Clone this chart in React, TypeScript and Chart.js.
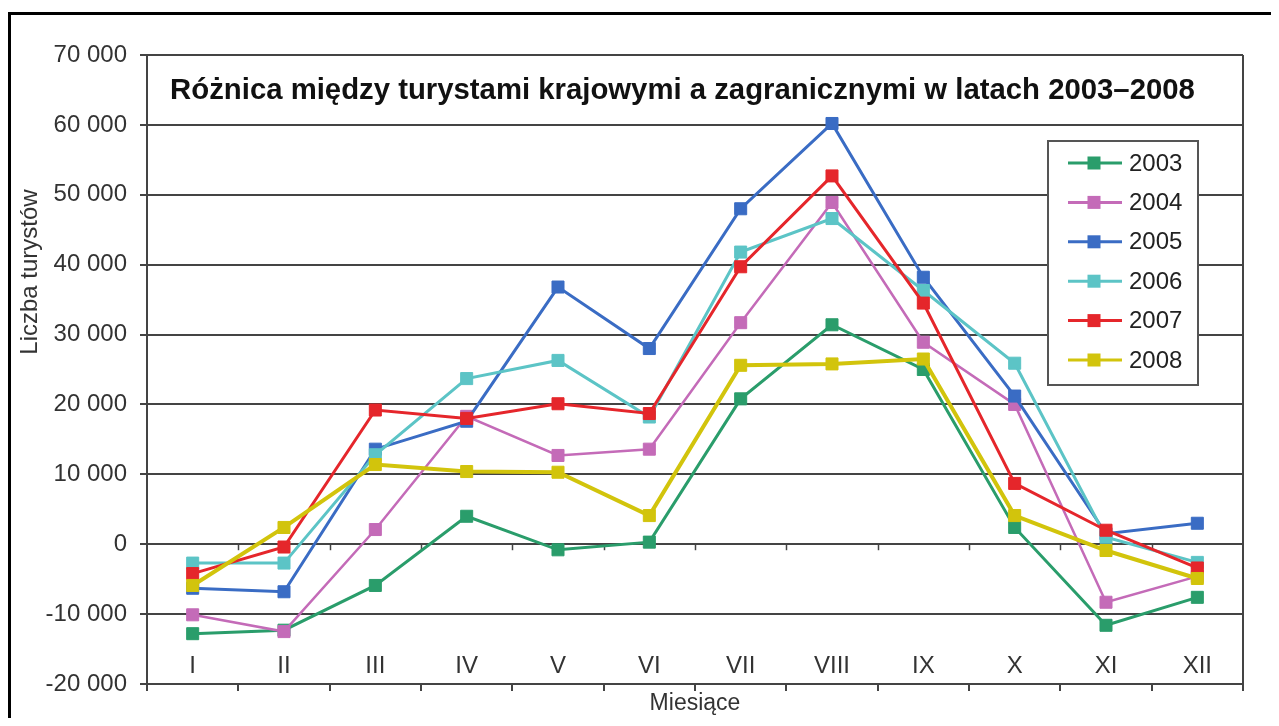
import React, { useEffect, useRef } from 'react';
import { Chart, registerables } from 'chart.js';

Chart.register(...registerables);

const FONT = '"Liberation Sans", Arial, Helvetica, sans-serif';

const months = ['I', 'II', 'III', 'IV', 'V', 'VI', 'VII', 'VIII', 'IX', 'X', 'XI', 'XII'];
const years = ['2003', '2004', '2005', '2006', '2007', '2008'];

const values2003 = [-12800, -12300, -5900, 4000, -800, 300, 20800, 31400, 25000, 2400, -11600, -7600];
const values2004 = [-10100, -12500, 2100, 18300, 12700, 13600, 31700, 48900, 28900, 20000, -8300, -4600];
const values2005 = [-6300, -6800, 13600, 17600, 36800, 28000, 48000, 60200, 38200, 21200, 1500, 3000];
const values2006 = [-2700, -2700, 12800, 23700, 26300, 18200, 41800, 46600, 36300, 25900, 1000, -2600];
const values2007 = [-4200, -400, 19200, 18000, 20100, 18700, 39700, 52700, 34500, 8700, 2000, -3400];
const values2008 = [-5900, 2400, 11400, 10400, 10300, 4100, 25600, 25800, 26500, 4100, -900, -4900];

const seriesValues = [values2003, values2004, values2005, values2006, values2007, values2008];
const seriesColors = ['#2a9d6b', '#c46bb8', '#3a6cc4', '#5cc4c6', '#e5262b', '#d2c40c'];
const seriesWidths = [3, 2.5, 3, 3, 3, 4];

const chartTitle = 'Różnica między turystami krajowymi a zagranicznymi w latach 2003–2008';
const yTitle = 'Liczba turystów';
const xTitle = 'Miesiące';

const yMin = -20000;
const yMax = 70000;
const yStep = 10000;

function formatThousands(v: number): string {
  const s = Math.abs(v).toString().replace(/\B(?=(\d{3})+(?!\d))/g, ' ');
  return (v < 0 ? '-' : '') + s;
}

const decorPlugin = {
  id: 'decor',
  beforeDatasetsDraw(chart: any) {
    const { ctx, chartArea: ca, scales } = chart;
    const y0 = scales.y.getPixelForValue(0);
    ctx.save();
    // outer frame
    ctx.fillStyle = '#000';
    ctx.fillRect(0, 4, chart.width, 3);
    ctx.fillRect(0, 4, 3, chart.height);
    // right border of plot area
    ctx.strokeStyle = '#444';
    ctx.lineWidth = 2;
    ctx.beginPath();
    ctx.moveTo(ca.right, ca.top);
    ctx.lineTo(ca.right, ca.bottom);
    ctx.stroke();
    // small ticks on the zero line
    const step = (ca.right - ca.left) / months.length;
    ctx.lineWidth = 1.5;
    for (let i = 1; i < months.length; i++) {
      const x = Math.round(ca.left + i * step) + 0.5;
      ctx.beginPath();
      ctx.moveTo(x, y0);
      ctx.lineTo(x, y0 + 6);
      ctx.stroke();
    }
    // y-axis title
    ctx.translate(22, 264);
    ctx.rotate(-Math.PI / 2);
    ctx.fillStyle = '#333';
    ctx.font = `24px ${FONT}`;
    ctx.textAlign = 'center';
    ctx.textBaseline = 'middle';
    ctx.fillText(yTitle, 0, 0);
    ctx.restore();
  },
  afterDatasetsDraw(chart: any) {
    const { ctx, chartArea: ca } = chart;
    ctx.save();
    // title inside plot
    ctx.font = `bold 26px ${FONT}`;
    const w = ctx.measureText(chartTitle).width;
    const size = (26 * 1025) / w;
    ctx.font = `bold ${size.toFixed(2)}px ${FONT}`;
    ctx.fillStyle = '#111';
    ctx.textAlign = 'center';
    ctx.textBaseline = 'alphabetic';
    ctx.fillText(chartTitle, 674.5, 91);

    // legend
    const boxRight = ca.right - 45;
    const boxLeft = boxRight - 150;
    const boxTop = ca.top + 86;
    const boxH = 244;
    ctx.fillStyle = '#fff';
    ctx.fillRect(boxLeft, boxTop, 150, boxH);
    ctx.strokeStyle = '#555';
    ctx.lineWidth = 2;
    ctx.strokeRect(boxLeft, boxTop, 150, boxH);
    ctx.font = `24px ${FONT}`;
    ctx.textAlign = 'left';
    ctx.textBaseline = 'middle';
    years.forEach((yr, i) => {
      const cy = boxTop + 22 + i * 39.4;
      ctx.strokeStyle = seriesColors[i];
      ctx.lineWidth = 3;
      ctx.beginPath();
      ctx.moveTo(boxLeft + 20, cy);
      ctx.lineTo(boxLeft + 74, cy);
      ctx.stroke();
      ctx.fillStyle = seriesColors[i];
      ctx.fillRect(boxLeft + 46 - 6.5, cy - 6.5, 13, 13);
      ctx.fillStyle = '#222';
      ctx.fillText(yr, boxLeft + 81, cy + 1);
    });
    ctx.restore();
  },
};

export default function App() {
  const canvasRef = useRef<HTMLCanvasElement | null>(null);

  useEffect(() => {
    if (!canvasRef.current) return;
    const chart = new Chart(canvasRef.current, {
      type: 'line',
      data: {
        labels: months,
        datasets: years.map((yr, i) => ({
          label: yr,
          data: seriesValues[i],
          borderColor: seriesColors[i],
          backgroundColor: seriesColors[i],
          borderWidth: seriesWidths[i],
          pointStyle: 'rect',
          pointRadius: 8.5,
          pointBorderWidth: 1,
          pointBackgroundColor: seriesColors[i],
          pointBorderColor: seriesColors[i],
          tension: 0,
          fill: false,
          order: years.length - i,
        })),
      },
      options: {
        responsive: false,
        animation: false,
        devicePixelRatio: 1,
        layout: { padding: { top: 47, right: 28, bottom: 0, left: 0 } },
        plugins: {
          legend: { display: false },
          tooltip: { enabled: false },
          title: { display: false },
        },
        scales: {
          x: {
            type: 'category',
            offset: true,
            grid: {
              display: true,
              offset: true,
              drawOnChartArea: false,
              drawTicks: true,
              tickLength: 7,
              color: '#444',
              lineWidth: 2,
            },
            border: { display: true, color: '#444', width: 2 },
            ticks: {
              color: '#333',
              font: { family: FONT, size: 24 },
              mirror: true,
              padding: 3,
              maxRotation: 0,
              autoSkip: false,
            },
            title: {
              display: true,
              text: xTitle,
              color: '#333',
              font: { family: FONT, size: 23, lineHeight: 1.2 },
              padding: { top: 0, bottom: 1 },
            },
            afterFit(scale: any) {
              scale.height = 34;
            },
          },
          y: {
            type: 'linear',
            min: yMin,
            max: yMax,
            grid: {
              color: '#444',
              lineWidth: 2,
              drawTicks: true,
              tickLength: 7,
              tickColor: '#444',
            },
            border: { display: true, color: '#444', width: 2 },
            ticks: {
              stepSize: yStep,
              color: '#333',
              font: { family: FONT, size: 24 },
              padding: 13,
              callback: (v: any) => formatThousands(Number(v)),
            },
            afterFit(scale: any) {
              scale.width = 139;
            },
          },
        },
      },
      plugins: [decorPlugin],
    });
    return () => chart.destroy();
  }, []);

  return (
    <canvas
      ref={canvasRef}
      width={1263}
      height={710}
      style={{ display: 'block', width: 1263, height: 710 }}
    />
  );
}
